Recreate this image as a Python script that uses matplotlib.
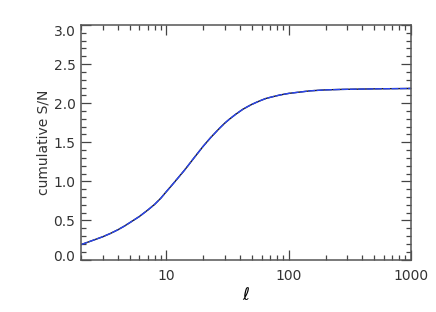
import numpy as np
import matplotlib
matplotlib.use("Agg")
import matplotlib.pyplot as plt
from matplotlib.ticker import FixedLocator, NullFormatter, FixedFormatter
from matplotlib.transforms import ScaledTranslation

# data
ell = [2, 2.5, 3, 3.5, 4, 4.5, 5, 6, 7, 8, 9, 10, 11, 12, 13, 14, 15, 17, 20, 23, 27,
       30, 33, 37, 42, 46, 50, 57, 65, 75, 85, 100, 120, 150, 200, 270, 380, 550,
       750, 1000]
snr_black = [0.19, 0.245, 0.29, 0.335, 0.38, 0.425, 0.47, 0.55, 0.63, 0.705, 0.785,
             0.87, 0.945, 1.015, 1.08, 1.14, 1.20, 1.31, 1.45, 1.56, 1.675, 1.745, 1.80,
             1.86, 1.92, 1.955, 1.985, 2.025, 2.06, 2.085, 2.105, 2.125, 2.14, 2.158,
             2.17, 2.176, 2.18, 2.184, 2.186, 2.188]
snr_blue = list(snr_black)

xticks = [10, 100, 1000]
xticklabels = ["10", "100", "1000"]
yticks = [0.0, 0.5, 1.0, 1.5, 2.0, 2.5, 3.0]
yticklabels = ["0.0", "0.5", "1.0", "1.5", "2.0", "2.5", "3.0"]

fig = plt.figure(figsize=(4.36, 3.12), dpi=100)
ax = fig.add_axes([81/436, 1 - 259.5/312, 330/436, 234.5/312])

ax.plot(ell, snr_black, color="#1a1a1a", lw=1.0, solid_capstyle="butt")
ax.plot(ell, snr_blue, color="#2a45f0", lw=1.0, ls=(0, (5, 1)))

ax.set_xscale("log")
ax.set_xlim(2, 1000)
ax.set_ylim(0, 3)

ax.xaxis.set_major_locator(FixedLocator(xticks))
ax.xaxis.set_major_formatter(FixedFormatter(xticklabels))
minor_x = [m * d for d in (1, 10, 100) for m in range(2, 10) if 2 <= m * d < 1000]
ax.xaxis.set_minor_locator(FixedLocator(minor_x))
ax.xaxis.set_minor_formatter(NullFormatter())

ax.yaxis.set_major_locator(FixedLocator(yticks))
ax.yaxis.set_major_formatter(FixedFormatter(yticklabels))
ax.yaxis.set_minor_locator(FixedLocator(np.arange(0, 3.01, 0.1)))

txtcol = "#333333"
ax.tick_params(which="both", direction="in", top=True, right=True, colors="#444444",
               labelcolor=txtcol, labelsize=10)
ax.tick_params(which="major", length=7, width=0.9)
ax.tick_params(which="minor", length=3.5, width=0.9)
ax.tick_params(axis="y", pad=4)
ax.tick_params(axis="x", pad=7)
for s in ax.spines.values():
    s.set_color("#555555")
    s.set_linewidth(1.1)

fig.canvas.draw()
ylabs = ax.get_yticklabels()
ylabs[0].set_transform(ylabs[0].get_transform() + ScaledTranslation(0, 4/100, fig.dpi_scale_trans))
ylabs[-1].set_transform(ylabs[-1].get_transform() + ScaledTranslation(0, -5/100, fig.dpi_scale_trans))

ax.set_ylabel("cumulative S/N", fontsize=10, color=txtcol, labelpad=2)
ax.set_xlabel(r"$\ell$", fontsize=12, color="black", labelpad=2)

fig.savefig("out.png", dpi=100)
